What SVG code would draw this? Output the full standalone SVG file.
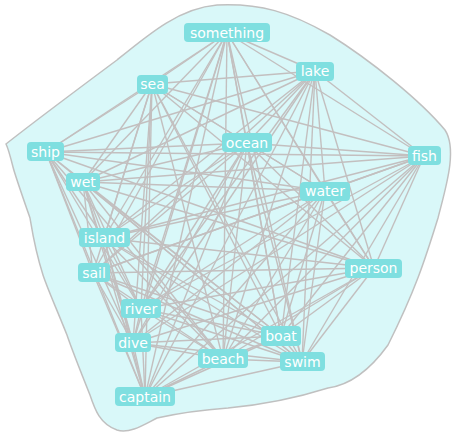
<svg xmlns="http://www.w3.org/2000/svg" width="456" height="436" viewBox="0 0 456 436">
<style>
.e{stroke:#c3bfbf;stroke-width:1.4}
.n rect{fill:#7fdfe0}
.n text{fill:#fff;font-family:"DejaVu Sans",sans-serif;font-size:14px;text-anchor:middle}
</style>
<rect width="456" height="436" fill="#fff"/>
<path id="blob" d="M6,144 C30,125 70,95 117,60 C150,33 180,8 217,5 C260,3 290,12 330,35 C370,60 420,100 445,130 C458,150 445,190 438,218 C425,260 415,291 388,345 C370,370 350,385 328,388 C290,400 260,405 228,408 C200,410 175,414 157,418 C145,424 130,434 117,430 C100,424 95,410 90,395 C80,370 72,350 67,335 C55,305 48,290 43,275 C35,250 32,230 30,218 C22,195 15,175 13,167 C10,155 8,148 6,144 Z" fill="#d9f8f9" stroke="#c0c0c0" stroke-width="1.5"/>
<g id="connectors">
<line class="e" x1="227" y1="33" x2="152" y2="84"/>
<line class="e" x1="227" y1="33" x2="315" y2="71"/>
<line class="e" x1="227" y1="33" x2="46" y2="152"/>
<line class="e" x1="227" y1="33" x2="247" y2="143"/>
<line class="e" x1="227" y1="33" x2="424" y2="156"/>
<line class="e" x1="227" y1="33" x2="83" y2="182"/>
<line class="e" x1="227" y1="33" x2="325" y2="191"/>
<line class="e" x1="227" y1="33" x2="104" y2="238"/>
<line class="e" x1="227" y1="33" x2="374" y2="268"/>
<line class="e" x1="227" y1="33" x2="93" y2="273"/>
<line class="e" x1="227" y1="33" x2="141" y2="309"/>
<line class="e" x1="227" y1="33" x2="281" y2="336"/>
<line class="e" x1="227" y1="33" x2="133" y2="343"/>
<line class="e" x1="227" y1="33" x2="223" y2="359"/>
<line class="e" x1="227" y1="33" x2="302" y2="362"/>
<line class="e" x1="227" y1="33" x2="145" y2="397"/>
<line class="e" x1="152" y1="84" x2="315" y2="71"/>
<line class="e" x1="152" y1="84" x2="46" y2="152"/>
<line class="e" x1="152" y1="84" x2="247" y2="143"/>
<line class="e" x1="152" y1="84" x2="424" y2="156"/>
<line class="e" x1="152" y1="84" x2="83" y2="182"/>
<line class="e" x1="152" y1="84" x2="325" y2="191"/>
<line class="e" x1="152" y1="84" x2="104" y2="238"/>
<line class="e" x1="152" y1="84" x2="374" y2="268"/>
<line class="e" x1="152" y1="84" x2="93" y2="273"/>
<line class="e" x1="152" y1="84" x2="141" y2="309"/>
<line class="e" x1="152" y1="84" x2="281" y2="336"/>
<line class="e" x1="152" y1="84" x2="133" y2="343"/>
<line class="e" x1="152" y1="84" x2="223" y2="359"/>
<line class="e" x1="152" y1="84" x2="302" y2="362"/>
<line class="e" x1="152" y1="84" x2="145" y2="397"/>
<line class="e" x1="315" y1="71" x2="46" y2="152"/>
<line class="e" x1="315" y1="71" x2="247" y2="143"/>
<line class="e" x1="315" y1="71" x2="424" y2="156"/>
<line class="e" x1="315" y1="71" x2="83" y2="182"/>
<line class="e" x1="315" y1="71" x2="325" y2="191"/>
<line class="e" x1="315" y1="71" x2="104" y2="238"/>
<line class="e" x1="315" y1="71" x2="374" y2="268"/>
<line class="e" x1="315" y1="71" x2="93" y2="273"/>
<line class="e" x1="315" y1="71" x2="141" y2="309"/>
<line class="e" x1="315" y1="71" x2="281" y2="336"/>
<line class="e" x1="315" y1="71" x2="133" y2="343"/>
<line class="e" x1="315" y1="71" x2="223" y2="359"/>
<line class="e" x1="315" y1="71" x2="302" y2="362"/>
<line class="e" x1="315" y1="71" x2="145" y2="397"/>
<line class="e" x1="46" y1="152" x2="247" y2="143"/>
<line class="e" x1="46" y1="152" x2="424" y2="156"/>
<line class="e" x1="46" y1="152" x2="325" y2="191"/>
<line class="e" x1="46" y1="152" x2="104" y2="238"/>
<line class="e" x1="46" y1="152" x2="374" y2="268"/>
<line class="e" x1="46" y1="152" x2="93" y2="273"/>
<line class="e" x1="46" y1="152" x2="141" y2="309"/>
<line class="e" x1="46" y1="152" x2="281" y2="336"/>
<line class="e" x1="46" y1="152" x2="133" y2="343"/>
<line class="e" x1="46" y1="152" x2="223" y2="359"/>
<line class="e" x1="46" y1="152" x2="302" y2="362"/>
<line class="e" x1="46" y1="152" x2="145" y2="397"/>
<line class="e" x1="247" y1="143" x2="424" y2="156"/>
<line class="e" x1="247" y1="143" x2="83" y2="182"/>
<line class="e" x1="247" y1="143" x2="325" y2="191"/>
<line class="e" x1="247" y1="143" x2="104" y2="238"/>
<line class="e" x1="247" y1="143" x2="374" y2="268"/>
<line class="e" x1="247" y1="143" x2="93" y2="273"/>
<line class="e" x1="247" y1="143" x2="141" y2="309"/>
<line class="e" x1="247" y1="143" x2="281" y2="336"/>
<line class="e" x1="247" y1="143" x2="133" y2="343"/>
<line class="e" x1="247" y1="143" x2="223" y2="359"/>
<line class="e" x1="247" y1="143" x2="302" y2="362"/>
<line class="e" x1="247" y1="143" x2="145" y2="397"/>
<line class="e" x1="424" y1="156" x2="83" y2="182"/>
<line class="e" x1="424" y1="156" x2="325" y2="191"/>
<line class="e" x1="424" y1="156" x2="104" y2="238"/>
<line class="e" x1="424" y1="156" x2="374" y2="268"/>
<line class="e" x1="424" y1="156" x2="93" y2="273"/>
<line class="e" x1="424" y1="156" x2="141" y2="309"/>
<line class="e" x1="424" y1="156" x2="281" y2="336"/>
<line class="e" x1="424" y1="156" x2="133" y2="343"/>
<line class="e" x1="424" y1="156" x2="223" y2="359"/>
<line class="e" x1="424" y1="156" x2="302" y2="362"/>
<line class="e" x1="424" y1="156" x2="145" y2="397"/>
<line class="e" x1="83" y1="182" x2="325" y2="191"/>
<line class="e" x1="83" y1="182" x2="104" y2="238"/>
<line class="e" x1="83" y1="182" x2="374" y2="268"/>
<line class="e" x1="83" y1="182" x2="93" y2="273"/>
<line class="e" x1="83" y1="182" x2="141" y2="309"/>
<line class="e" x1="83" y1="182" x2="281" y2="336"/>
<line class="e" x1="83" y1="182" x2="133" y2="343"/>
<line class="e" x1="83" y1="182" x2="223" y2="359"/>
<line class="e" x1="83" y1="182" x2="302" y2="362"/>
<line class="e" x1="83" y1="182" x2="145" y2="397"/>
<line class="e" x1="325" y1="191" x2="104" y2="238"/>
<line class="e" x1="325" y1="191" x2="374" y2="268"/>
<line class="e" x1="325" y1="191" x2="93" y2="273"/>
<line class="e" x1="325" y1="191" x2="141" y2="309"/>
<line class="e" x1="325" y1="191" x2="281" y2="336"/>
<line class="e" x1="325" y1="191" x2="133" y2="343"/>
<line class="e" x1="325" y1="191" x2="223" y2="359"/>
<line class="e" x1="325" y1="191" x2="302" y2="362"/>
<line class="e" x1="325" y1="191" x2="145" y2="397"/>
<line class="e" x1="104" y1="238" x2="374" y2="268"/>
<line class="e" x1="104" y1="238" x2="141" y2="309"/>
<line class="e" x1="104" y1="238" x2="281" y2="336"/>
<line class="e" x1="104" y1="238" x2="133" y2="343"/>
<line class="e" x1="104" y1="238" x2="223" y2="359"/>
<line class="e" x1="104" y1="238" x2="302" y2="362"/>
<line class="e" x1="104" y1="238" x2="145" y2="397"/>
<line class="e" x1="374" y1="268" x2="93" y2="273"/>
<line class="e" x1="374" y1="268" x2="141" y2="309"/>
<line class="e" x1="374" y1="268" x2="281" y2="336"/>
<line class="e" x1="374" y1="268" x2="133" y2="343"/>
<line class="e" x1="374" y1="268" x2="223" y2="359"/>
<line class="e" x1="374" y1="268" x2="302" y2="362"/>
<line class="e" x1="374" y1="268" x2="145" y2="397"/>
<line class="e" x1="93" y1="273" x2="141" y2="309"/>
<line class="e" x1="93" y1="273" x2="281" y2="336"/>
<line class="e" x1="93" y1="273" x2="133" y2="343"/>
<line class="e" x1="93" y1="273" x2="223" y2="359"/>
<line class="e" x1="93" y1="273" x2="302" y2="362"/>
<line class="e" x1="93" y1="273" x2="145" y2="397"/>
<line class="e" x1="141" y1="309" x2="281" y2="336"/>
<line class="e" x1="141" y1="309" x2="133" y2="343"/>
<line class="e" x1="141" y1="309" x2="223" y2="359"/>
<line class="e" x1="141" y1="309" x2="302" y2="362"/>
<line class="e" x1="141" y1="309" x2="145" y2="397"/>
<line class="e" x1="281" y1="336" x2="133" y2="343"/>
<line class="e" x1="281" y1="336" x2="223" y2="359"/>
<line class="e" x1="281" y1="336" x2="302" y2="362"/>
<line class="e" x1="281" y1="336" x2="145" y2="397"/>
<line class="e" x1="133" y1="343" x2="223" y2="359"/>
<line class="e" x1="133" y1="343" x2="302" y2="362"/>
<line class="e" x1="133" y1="343" x2="145" y2="397"/>
<line class="e" x1="223" y1="359" x2="302" y2="362"/>
<line class="e" x1="223" y1="359" x2="145" y2="397"/>
<line class="e" x1="302" y1="362" x2="145" y2="397"/>
</g>
<g id="something" class="n"><rect x="184" y="23" width="86" height="19" rx="4"/><text x="227" y="38">something</text></g>
<g id="sea" class="n"><rect x="137" y="75" width="31" height="19" rx="4"/><text x="152.5" y="89">sea</text></g>
<g id="lake" class="n"><rect x="296" y="62" width="38" height="19" rx="4"/><text x="315" y="76">lake</text></g>
<g id="ship" class="n"><rect x="27" y="142" width="37" height="19" rx="4"/><text x="45.5" y="157">ship</text></g>
<g id="ocean" class="n"><rect x="222" y="133" width="50" height="19" rx="4"/><text x="247" y="148">ocean</text></g>
<g id="fish" class="n"><rect x="408" y="146" width="33" height="19" rx="4"/><text x="424.5" y="161">fish</text></g>
<g id="wet" class="n"><rect x="66" y="173" width="34" height="18" rx="4"/><text x="83" y="187">wet</text></g>
<g id="water" class="n"><rect x="300" y="182" width="50" height="19" rx="4"/><text x="325" y="196">water</text></g>
<g id="island" class="n"><rect x="79" y="228" width="51" height="19" rx="4"/><text x="104.5" y="243">island</text></g>
<g id="person" class="n"><rect x="345" y="259" width="57" height="19" rx="4"/><text x="373.5" y="273">person</text></g>
<g id="sail" class="n"><rect x="78" y="263" width="32" height="19" rx="4"/><text x="94" y="278">sail</text></g>
<g id="river" class="n"><rect x="121" y="299" width="40" height="19" rx="4"/><text x="141" y="314">river</text></g>
<g id="boat" class="n"><rect x="261" y="326" width="40" height="20" rx="4"/><text x="281" y="341">boat</text></g>
<g id="dive" class="n"><rect x="115" y="333" width="36" height="19" rx="4"/><text x="133" y="348">dive</text></g>
<g id="beach" class="n"><rect x="198" y="349" width="50" height="19" rx="4"/><text x="223" y="364">beach</text></g>
<g id="swim" class="n"><rect x="280" y="352" width="45" height="19" rx="4"/><text x="302.5" y="367">swim</text></g>
<g id="captain" class="n"><rect x="115" y="387" width="60" height="19" rx="4"/><text x="145" y="402">captain</text></g>
</svg>
